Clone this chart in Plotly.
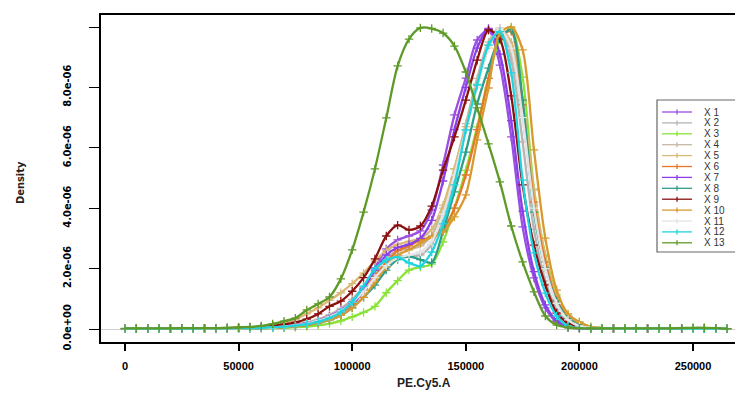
import plotly.graph_objects as go

# ---------------- data ----------------
# x grid (PE.Cy5.A), step 5000
x_values = [0, 5000, 10000, 15000, 20000, 25000, 30000, 35000, 40000, 45000,
            50000, 55000, 60000, 65000, 70000, 75000, 80000, 85000, 90000, 95000,
            100000, 105000, 110000, 115000, 120000, 125000, 130000, 135000, 140000, 145000,
            150000, 155000, 160000, 165000, 170000, 175000, 180000, 185000, 190000, 195000,
            200000, 205000, 210000, 215000, 220000, 225000, 230000, 235000, 240000, 245000,
            250000, 255000, 260000, 265000]

series_names = ["X 1", "X 2", "X 3", "X 4", "X 5", "X 6", "X 7",
                "X 8", "X 9", "X 10", "X 11", "X 12", "X 13"]

# density values in units of 1e-6
x1 = [0.01, 0.01, 0.01, 0.01, 0.01, 0.01, 0.02, 0.02, 0.02, 0.02, 0.03, 0.03, 0.04,
      0.07, 0.1, 0.14, 0.2, 0.28, 0.4, 0.56, 0.79, 1.29, 2.02,
      2.65, 2.95, 3.08, 3.25, 3.94, 5.43, 7.09, 8.31, 9.57, 9.9, 8.74, 6.36, 3.38, 1.69, 0.7, 0.23, 0.05, 0.03, 0.02, 0.02,
      0.02, 0.01, 0.01, 0.01, 0.01, 0.01, 0.01, 0.01, 0.01, 0.01, 0.01]
x2 = [0.01, 0.01, 0.01, 0.01, 0.01, 0.01, 0.01, 0.02, 0.02, 0.02, 0.02, 0.03, 0.04,
      0.05, 0.08, 0.12, 0.18, 0.28, 0.42, 0.62, 0.9, 1.3, 1.8,
      2.2, 2.4, 2.4, 2.45, 2.8, 3.7, 5.0, 6.6, 8.1, 9.4, 9.95, 8.9, 6.2, 3.3, 1.6, 0.65, 0.22, 0.07, 0.03, 0.02,
      0.02, 0.01, 0.01, 0.01, 0.01, 0.01, 0.01, 0.01, 0.01, 0.01, 0.01]
x3 = [0.01, 0.01, 0.01, 0.01, 0.01, 0.01, 0.01, 0.01, 0.01, 0.02, 0.02, 0.02, 0.03,
      0.03, 0.04, 0.06, 0.08, 0.12, 0.18, 0.27, 0.4, 0.55, 0.75,
      1.2, 1.6, 1.95, 2.05, 2.15, 2.88, 4.0, 5.26, 6.69, 8.31, 9.57, 9.95, 8.34, 4.64, 2.45, 1.13, 0.46, 0.23, 0.07, 0.03,
      0.02, 0.01, 0.01, 0.01, 0.01, 0.01, 0.01, 0.01, 0.01, 0.01, 0.01]
x4 = [0.01, 0.01, 0.01, 0.01, 0.01, 0.01, 0.02, 0.02, 0.02, 0.03, 0.03, 0.04, 0.05,
      0.07, 0.1, 0.15, 0.22, 0.32, 0.47, 0.68, 0.98, 1.4, 1.9,
      2.35, 2.6, 2.65, 2.75, 3.1, 4.0, 5.3, 6.8, 8.3, 9.5, 9.95, 9.2, 7.0, 4.1, 2.1, 0.9, 0.35, 0.12, 0.04, 0.02,
      0.02, 0.01, 0.01, 0.01, 0.01, 0.01, 0.01, 0.01, 0.01, 0.01, 0.01]
x5 = [0.01, 0.01, 0.01, 0.01, 0.02, 0.02, 0.02, 0.03, 0.03, 0.04, 0.05, 0.06, 0.08,
      0.12, 0.2, 0.32, 0.5, 0.7, 0.95, 1.2, 1.5, 1.85, 2.25,
      2.6, 2.8, 2.9, 3.0, 3.3, 4.1, 5.3, 6.7, 8.1, 9.3, 9.95, 9.5, 7.6, 4.6, 2.4, 1.05, 0.4, 0.14, 0.05, 0.03,
      0.02, 0.01, 0.01, 0.01, 0.01, 0.01, 0.01, 0.01, 0.01, 0.01, 0.01]
x6 = [0.01, 0.01, 0.01, 0.01, 0.01, 0.01, 0.01, 0.02, 0.02, 0.02, 0.03, 0.03, 0.04,
      0.05, 0.07, 0.1, 0.15, 0.23, 0.35, 0.55, 0.85, 1.3, 1.75,
      2.2, 2.6, 2.75, 2.95, 3.05, 3.3, 4.0, 5.1, 6.6, 8.3, 9.7, 9.85, 7.42, 4.2, 2.22, 0.96, 0.4, 0.13, 0.04, 0.02,
      0.02, 0.01, 0.01, 0.01, 0.01, 0.01, 0.01, 0.01, 0.01, 0.01, 0.01]
x7 = [0.01, 0.01, 0.01, 0.01, 0.01, 0.01, 0.01, 0.02, 0.02, 0.02, 0.03, 0.03, 0.04,
      0.06, 0.09, 0.13, 0.19, 0.28, 0.42, 0.62, 0.9, 1.35, 1.95,
      2.45, 2.7, 2.8, 3.0, 3.6, 4.9, 6.6, 8.0, 9.3, 9.95, 9.1, 6.9, 3.9, 1.9, 0.8, 0.28, 0.08, 0.03, 0.02, 0.02,
      0.02, 0.01, 0.01, 0.01, 0.01, 0.01, 0.01, 0.01, 0.01, 0.01, 0.01]
x8 = [0.01, 0.01, 0.01, 0.01, 0.01, 0.01, 0.01, 0.01, 0.02, 0.02, 0.02, 0.03, 0.03,
      0.04, 0.06, 0.09, 0.13, 0.2, 0.3, 0.45, 0.7, 1.05, 1.45,
      1.95, 2.3, 2.4, 2.3, 2.2, 3.25, 4.54, 5.86, 7.45, 8.64, 9.64, 9.9, 7.58, 3.87, 2.02, 0.93, 0.36, 0.13, 0.04, 0.02,
      0.02, 0.01, 0.01, 0.01, 0.01, 0.01, 0.01, 0.01, 0.01, 0.01, 0.01]
x9 = [0.01, 0.01, 0.01, 0.01, 0.01, 0.02, 0.02, 0.02, 0.03, 0.03, 0.04, 0.05, 0.07,
      0.1, 0.15, 0.22, 0.33, 0.5, 0.75, 0.92, 1.25, 1.7, 2.32,
      3.08, 3.44, 3.28, 3.41, 4.07, 5.26, 6.36, 7.58, 8.9, 9.9, 9.6, 7.72, 4.77, 2.78, 1.46, 0.53, 0.2, 0.06, 0.03, 0.02,
      0.02, 0.01, 0.01, 0.01, 0.01, 0.01, 0.01, 0.01, 0.01, 0.01, 0.01]
x10 = [0.01, 0.01, 0.01, 0.01, 0.01, 0.01, 0.01, 0.01, 0.02, 0.02, 0.02, 0.03, 0.03,
       0.04, 0.06, 0.09, 0.14, 0.2, 0.3, 0.45, 0.7, 1.05, 1.55,
       2.05, 2.45, 2.62, 2.85, 3.05, 3.21, 3.71, 4.44, 6.26, 7.98, 9.8, 10.0, 9.24, 5.93, 3.01, 1.29, 0.5, 0.23, 0.07, 0.03,
       0.02, 0.01, 0.01, 0.01, 0.01, 0.01, 0.01, 0.01, 0.01, 0.01, 0.01]
x11 = [0.01, 0.01, 0.01, 0.01, 0.01, 0.01, 0.01, 0.02, 0.02, 0.02, 0.02, 0.03, 0.04,
       0.05, 0.08, 0.12, 0.18, 0.27, 0.4, 0.6, 0.88, 1.25, 1.7,
       2.1, 2.35, 2.45, 2.55, 2.9, 3.8, 5.1, 6.6, 8.0, 9.3, 9.95, 9.3, 7.0, 4.0, 2.0, 0.85, 0.3, 0.1, 0.04, 0.02,
       0.02, 0.01, 0.01, 0.01, 0.01, 0.01, 0.01, 0.01, 0.01, 0.01, 0.01]
x12 = [0.01, 0.01, 0.01, 0.01, 0.01, 0.01, 0.01, 0.02, 0.02, 0.02, 0.03, 0.03, 0.04,
       0.06, 0.08, 0.11, 0.16, 0.24, 0.36, 0.56, 0.89, 1.42, 1.99,
       2.28, 2.38, 2.19, 2.09, 2.55, 3.48, 4.77, 6.59, 8.08, 9.4, 9.85, 8.48, 4.93, 2.52, 1.19, 0.43, 0.1, 0.03, 0.02, 0.02,
       0.02, 0.01, 0.01, 0.01, 0.01, 0.01, 0.01, 0.01, 0.01, 0.01, 0.01]
x13 = [0.02, 0.02, 0.02, 0.02, 0.02, 0.03, 0.03, 0.03, 0.03, 0.04, 0.05, 0.07, 0.1,
       0.17, 0.26, 0.36, 0.63, 0.83, 1.06, 1.66, 2.62, 3.87, 5.3,
       6.99, 8.71, 9.6, 9.97, 9.95, 9.8, 9.37, 8.51, 7.32, 6.13, 4.87, 3.41, 2.22, 1.23, 0.43, 0.13, 0.05, 0.02, 0.02, 0.02,
       0.02, 0.02, 0.02, 0.02, 0.02, 0.02, 0.03, 0.04, 0.04, 0.03, 0.01]

series_values = [x1, x2, x3, x4, x5, x6, x7, x8, x9, x10, x11, x12, x13]

x_tick_values = [0, 50000, 100000, 150000, 200000, 250000]
x_tick_labels = ["0", "50000", "100000", "150000", "200000", "250000"]
y_tick_values = [0, 2e-6, 4e-6, 6e-6, 8e-6, 1e-5]
y_tick_labels = ["0.0e+00", "2.0e-06", "4.0e-06", "6.0e-06", "8.0e-06", "1.0e-05"]

# ---------------- style ----------------
colors = ["#9B4FE0", "#B5B5B5", "#8BE33A", "#C6B8A4", "#D9B878", "#E8762A", "#8A3FE8",
          "#2E9E8A", "#8B1010", "#D89A30", "#E4E4E4", "#20D4DE", "#5E9A28"]

# the page body has an 8px margin: figure pixel = page pixel - OFF
OFF = 8
W, H = 743 - 2 * OFF, 401 - 2 * OFF
L, T, B = 101 - OFF, 15 - OFF, 342 - OFF   # plot area (figure px)
R = W


def fx(page_px):
    return page_px - OFF


def px_x(p):
    return (fx(p) - L) / (R - L)


def px_y(p):
    return (B - fx(p)) / (B - T)


fig = go.Figure()
for name, vals, col in zip(series_names, series_values, colors):
    fig.add_trace(go.Scatter(
        x=x_values, y=[v * 1e-6 for v in vals], name=name, mode="lines+markers",
        line=dict(color=col, width=2.3, shape="spline", smoothing=0.8),
        marker=dict(symbol="cross-thin", size=6, color=col, line=dict(color=col, width=1.3)),
        showlegend=False))

font_main = "Liberation Sans, Arial, sans-serif"
font_narrow = "DejaVu Sans Condensed, Liberation Sans Narrow, Liberation Sans, sans-serif"
shapes = []
annotations = []

# legend (manual, R style)
shapes.append(dict(type="rect", xref="paper", yref="paper",
                   x0=px_x(657), x1=px_x(790), y0=px_y(252), y1=px_y(100),
                   line=dict(color="#666666", width=1.2), fillcolor="rgba(255,255,255,0)"))
for i, (name, col) in enumerate(zip(series_names, colors)):
    yy = 112 + i * 10.9
    shapes.append(dict(type="line", xref="paper", yref="paper",
                       x0=px_x(662), x1=px_x(692), y0=px_y(yy), y1=px_y(yy),
                       line=dict(color=col, width=1.3)))
    shapes.append(dict(type="line", xref="paper", yref="paper",
                       x0=px_x(677), x1=px_x(677), y0=px_y(yy - 2.5), y1=px_y(yy + 2.5),
                       line=dict(color=col, width=1.3)))
    annotations.append(dict(xref="paper", yref="paper", x=px_x(703), y=px_y(yy),
                            text=name, showarrow=False, xanchor="left", yanchor="middle",
                            borderpad=0,
                            font=dict(family=font_main, size=10, color="#333333")))

annotations.append(dict(xref="paper", yref="paper", x=px_x(424), y=px_y(383),
                        text="<b>PE.Cy5.A</b>", showarrow=False, xanchor="center", yanchor="middle",
                        font=dict(family=font_main, size=12, color="#222222")))
annotations.append(dict(xref="paper", yref="paper", x=px_x(20), y=px_y(183),
                        text="<b>Density</b>", showarrow=False, textangle=-90,
                        xanchor="center", yanchor="middle",
                        font=dict(family=font_narrow, size=11, color="#222222")))

x_px_per_unit = 0.002272
x0_px = fx(125)                      # where x = 0 sits
x_min = (L - x0_px) / x_px_per_unit
x_max = (R - x0_px) / x_px_per_unit
y_unit = 1e-5 / 302.0                # data per px
y0_px = fx(329)                      # where y = 0 sits
y_min = -(B - y0_px) * y_unit
y_max = (y0_px - T) * y_unit

fig.update_layout(
    width=W, height=H,
    margin=dict(l=L, r=W - R, t=T, b=H - B, pad=0, autoexpand=False),
    paper_bgcolor="white", plot_bgcolor="white",
    shapes=shapes, annotations=annotations,
    xaxis=dict(range=[x_min, x_max], tickvals=x_tick_values,
               ticktext=["<b>%s</b>" % t for t in x_tick_labels], automargin=False,
               showgrid=False, zeroline=False, showline=True, linecolor="black", linewidth=2,
               mirror=True, ticks="outside", ticklen=7, tickcolor="black", tickwidth=1.5,
               tickfont=dict(family=font_main, size=11, color="black"), ticklabelstandoff=6),
    yaxis=dict(range=[y_min, y_max], tickvals=y_tick_values,
               ticktext=["<b>%s</b>" % t for t in y_tick_labels], automargin=False,
               showgrid=False, zeroline=True, zerolinecolor="#D0D0D0", zerolinewidth=1.2,
               showline=True, linecolor="black", linewidth=2, mirror=False,
               ticks="outside", ticklen=10, tickcolor="black", tickwidth=1.2, tickangle=-90,
               tickfont=dict(family=font_narrow, size=11, color="black"), ticklabelstandoff=14),
)

fig.write_html("out.html")
